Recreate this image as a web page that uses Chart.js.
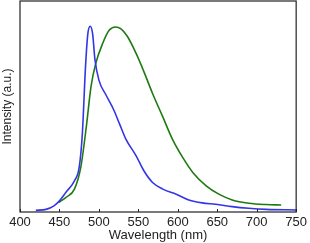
<!DOCTYPE html>
<html>
<head>
<meta charset="utf-8">
<script src="https://cdn.jsdelivr.net/npm/chart.js@4/dist/chart.umd.min.js"></script>
<style>
  body { margin: 0; background: #fff; }
  #wrap { width: 310px; height: 243px; }
</style>
</head>
<body>
<div id="wrap"><canvas id="plChart"></canvas></div>
<script>
// wavelength (nm) / intensity pairs
var blueX = [420, 433, 443, 450, 458, 469, 475, 479, 483, 486, 489, 492, 495, 500, 509, 519, 526, 534, 547, 557, 568, 581, 598, 614, 631, 648, 669, 690, 712, 750];
var blueY = [0.009, 0.014, 0.033, 0.06, 0.105, 0.168, 0.24, 0.42, 0.78, 0.96, 1.0, 0.96, 0.82, 0.71, 0.63, 0.548, 0.476, 0.394, 0.304, 0.222, 0.159, 0.123, 0.096, 0.065, 0.049, 0.042, 0.029, 0.02, 0.014, 0.011];
var greenX = [449, 458, 469, 477, 484, 490, 496, 505, 513, 521, 528, 536, 547, 557, 568, 581, 593, 606, 619, 636, 652, 669, 690, 712, 731];
var greenY = [0.052, 0.078, 0.123, 0.24, 0.457, 0.675, 0.80, 0.91, 0.978, 0.996, 0.986, 0.946, 0.855, 0.756, 0.638, 0.512, 0.394, 0.295, 0.213, 0.141, 0.096, 0.065, 0.047, 0.040, 0.038];
var xTicks = [400, 450, 500, 550, 600, 650, 700, 750];

function pts(xs, ys) {
    return xs.map(function (x, i) { return { x: x, y: ys[i] }; });
}

// frame round the plot plus short inward ticks on the x axis
var frame = {
    id: 'frame',
    afterDraw: function (chart) {
        var c = chart.ctx, a = chart.chartArea, sx = chart.scales.x;
        c.save();
        c.strokeStyle = '#222';
        c.lineWidth = 1.2;
        c.strokeRect(a.left, a.top, a.right - a.left, a.bottom - a.top);
        c.lineWidth = 1;
        xTicks.forEach(function (t) {
            var px = Math.round(sx.getPixelForValue(t)) + 0.5;
            c.beginPath();
            c.moveTo(px, a.bottom);
            c.lineTo(px, a.bottom - 3);
            c.stroke();
        });
        c.restore();
    }
};

var ctx = document.getElementById('plChart').getContext('2d');
var plChart = new Chart(ctx, {
    type: 'line',
    data: {
        datasets: [{
            data: pts(blueX, blueY),
            borderColor: '#3535e8',
            borderWidth: 1.6,
            pointRadius: 0,
            tension: 0.4,
            cubicInterpolationMode: 'monotone'
        }, {
            data: pts(greenX, greenY),
            borderColor: '#1f7a12',
            borderWidth: 1.6,
            pointRadius: 0,
            tension: 0.4,
            cubicInterpolationMode: 'monotone'
        }]
    },
    plugins: [frame],
    options: {
        responsive: true,
        maintainAspectRatio: false,
        animation: false,
        layout: { padding: { top: 1, right: 12, left: 0, bottom: 0 } },
        plugins: {
            legend: { display: false },
            tooltip: { enabled: false }
        },
        scales: {
            x: {
                type: 'linear',
                min: 400,
                max: 750,
                afterBuildTicks: function (s) {
                    s.ticks = xTicks.map(function (v) { return { value: v }; });
                },
                grid: { display: false, drawTicks: false },
                border: { display: false },
                ticks: {
                    color: '#222',
                    font: { family: 'Liberation Sans, Arial', size: 13 },
                    padding: 3,
                    maxRotation: 0
                },
                title: {
                    display: true,
                    text: 'Wavelength (nm)',
                    color: '#222',
                    font: { family: 'Liberation Sans, Arial', size: 13 },
                    padding: { top: 0, bottom: 0 }
                },
                afterFit: function (s) { s.height = 31; }
            },
            y: {
                min: 0,
                max: 1.136,
                grid: { display: false },
                border: { display: false },
                ticks: { display: false },
                title: {
                    display: true,
                    text: 'Intensity (a.u.)',
                    color: '#222',
                    font: { family: 'Liberation Sans, Arial', size: 12 },
                    padding: { top: 0, bottom: 0 }
                },
                afterFit: function (s) { s.width = 20; }
            }
        }
    }
});
</script>
</body>
</html>
